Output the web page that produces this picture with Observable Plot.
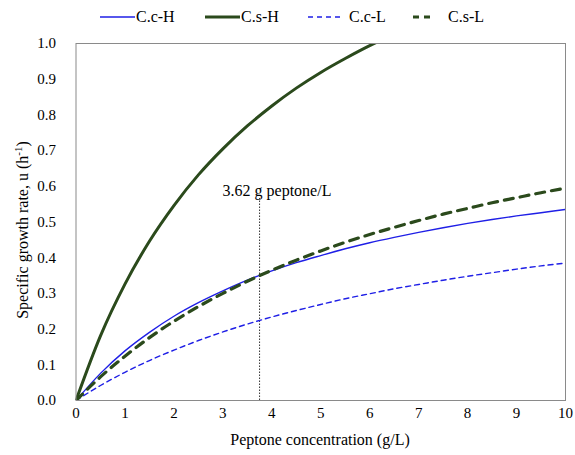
<!DOCTYPE html>
<html>
<head>
<meta charset="utf-8">
<script src="https://cdn.jsdelivr.net/npm/d3@7"></script>
<script src="https://cdn.jsdelivr.net/npm/@observablehq/plot@0.6"></script>
<style>
  html, body { margin: 0; padding: 0; background: #fff; }
  #wrap { width: 575px; height: 455px; position: relative; font-family: "Times New Roman", "Liberation Serif", Tinos, "DejaVu Serif", serif; }
  #legend { position: relative; height: 34px; width: 575px; }
  .item { position: absolute; top: 8px; display: flex; align-items: center; font-size: 16px; color: #000; }
  .item svg { display: block; }
  #chart svg, #chart svg text { font-family: "Times New Roman", "Liberation Serif", Tinos, "DejaVu Serif", serif !important; }
</style>
</head>
<body>
<div id="wrap">
  <div id="legend"></div>
  <div id="chart"></div>
</div>
<script>
// ---- data ----
const xs     = [0, 0.5, 1, 1.5, 2, 2.5, 3, 3.5, 4, 4.5, 5, 5.5, 6, 6.5, 7, 7.5, 8, 8.5, 9, 9.5, 10];
const ccH    = [0, 0.076, 0.139, 0.191, 0.236, 0.274, 0.307, 0.337, 0.363, 0.386, 0.406, 0.425, 0.442, 0.457, 0.471, 0.484, 0.496, 0.507, 0.517, 0.526, 0.535];
const csL    = [0, 0.066, 0.124, 0.176, 0.222, 0.263, 0.300, 0.334, 0.365, 0.393, 0.419, 0.443, 0.465, 0.485, 0.504, 0.522, 0.538, 0.554, 0.568, 0.582, 0.595];
const ccL    = [0, 0.042, 0.079, 0.112, 0.141, 0.168, 0.192, 0.214, 0.234, 0.252, 0.269, 0.285, 0.299, 0.313, 0.325, 0.337, 0.348, 0.358, 0.368, 0.377, 0.385];
const csH_x  = [0, 0.5, 1, 1.5, 2, 2.5, 3, 3.5, 4, 4.5, 5, 5.5, 6, 6.5];
const csH    = [0, 0.181, 0.326, 0.446, 0.546, 0.632, 0.705, 0.769, 0.825, 0.875, 0.919, 0.958, 0.994, 1.026];
const seriesNames = ["C.c-H", "C.s-H", "C.c-L", "C.s-L"];
const xTicks = [0, 1, 2, 3, 4, 5, 6, 7, 8, 9, 10];
const yTicks = [0, 0.1, 0.2, 0.3, 0.4, 0.5, 0.6, 0.7, 0.8, 0.9, 1.0];
const annotX = [3.75];
const annotTop = [0.566];
const annotLabel = ["3.62 g peptone/L"];

// ---- styles ----
const FONT = '"Times New Roman", "Liberation Serif", Tinos, "DejaVu Serif", serif';
const BLUE = "#1f1fe6";
const GREEN = "#2b4a1c";
const styles = {
  "C.c-H": {stroke: BLUE, width: 1.4, dash: null},
  "C.s-H": {stroke: GREEN, width: 3, dash: null},
  "C.c-L": {stroke: BLUE, width: 1.4, dash: "5,4"},
  "C.s-L": {stroke: GREEN, width: 3.2, dash: "9,7"}
};

const rows = [];
xs.forEach((x, i) => {
  rows.push({s: "C.c-H", x, y: ccH[i]});
  rows.push({s: "C.c-L", x, y: ccL[i]});
  rows.push({s: "C.s-L", x, y: csL[i]});
});
csH_x.forEach((x, i) => rows.push({s: "C.s-H", x, y: csH[i]}));

const lineMark = (name) => Plot.line(rows.filter(d => d.s === name), {
  x: "x", y: "y",
  stroke: styles[name].stroke,
  strokeWidth: styles[name].width,
  strokeDasharray: styles[name].dash,
  curve: "monotone-x",
  clip: true
});

const annot = annotX.map((x, i) => ({x, top: annotTop[i], label: annotLabel[i]}));

const W = 575, H = 421;
const chart = Plot.plot({
  width: W, height: H,
  marginTop: 9, marginBottom: 55, marginLeft: 75.5, marginRight: 10,
  style: {fontFamily: FONT, fontSize: "15px", color: "#000", background: "#fff"},
  x: {domain: [0, 10], ticks: xTicks, tickSize: 0, tickPadding: 7, label: null},
  y: {domain: [0, 1], ticks: yTicks, tickFormat: d3.format(".1f"), tickSize: 0, tickPadding: 20, label: null},
  marks: [
    Plot.ruleX(annot, {x: "x", y1: 0, y2: "top", stroke: "#000", strokeWidth: 0.8, strokeDasharray: "1.5,1.5"}),
    lineMark("C.c-L"),
    lineMark("C.c-H"),
    lineMark("C.s-L"),
    lineMark("C.s-H"),
    Plot.text(annot, {x: "x", y: "top", text: "label", textAnchor: "start", lineAnchor: "bottom", dx: -37, dy: -2, fontSize: 16, fill: "#000"}),
    Plot.frame({stroke: "#8a8a8a", strokeWidth: 1})
  ]
});
document.getElementById("chart").appendChild(chart);

// axis titles
const svg = d3.select(chart);
svg.append("text")
  .attr("x", 320).attr("y", 411)
  .attr("text-anchor", "middle")
  .style("font-family", FONT).style("font-size", "16px").attr("fill", "#000")
  .text("Peptone concentration (g/L)");
const yl = svg.append("text")
  .attr("transform", "translate(28,196) rotate(-90)")
  .attr("text-anchor", "middle")
  .style("font-family", FONT).style("font-size", "16px").attr("fill", "#000");
yl.append("tspan").text("Specific growth rate, u (h");
yl.append("tspan").attr("baseline-shift", "super").style("font-size", "11px").text("-1");
yl.append("tspan").text(")");

// legend
const legendPos = {"C.c-H": 100, "C.s-H": 205, "C.c-L": 308, "C.s-L": 413};
const legend = document.getElementById("legend");
seriesNames.forEach(name => {
  const st = styles[name];
  const item = document.createElement("div");
  item.className = "item";
  item.style.left = legendPos[name] + "px";
  const sw = d3.create("svg").attr("width", name === "C.s-L" ? 30 : 36).attr("height", 12);
  const dash = name === "C.s-L" ? "6,5" : st.dash;
  sw.append("line").attr("x1", 0).attr("x2", name === "C.s-L" ? 17 : 35).attr("y1", 6).attr("y2", 6)
    .attr("stroke", st.stroke).attr("stroke-width", st.width).attr("stroke-dasharray", dash);
  item.appendChild(sw.node());
  const t = document.createElement("span");
  t.textContent = name;
  t.style.marginLeft = (name === "C.s-L" || name === "C.c-L") ? "5px" : "0px";
  item.appendChild(t);
  legend.appendChild(item);
});
</script>
</body>
</html>
